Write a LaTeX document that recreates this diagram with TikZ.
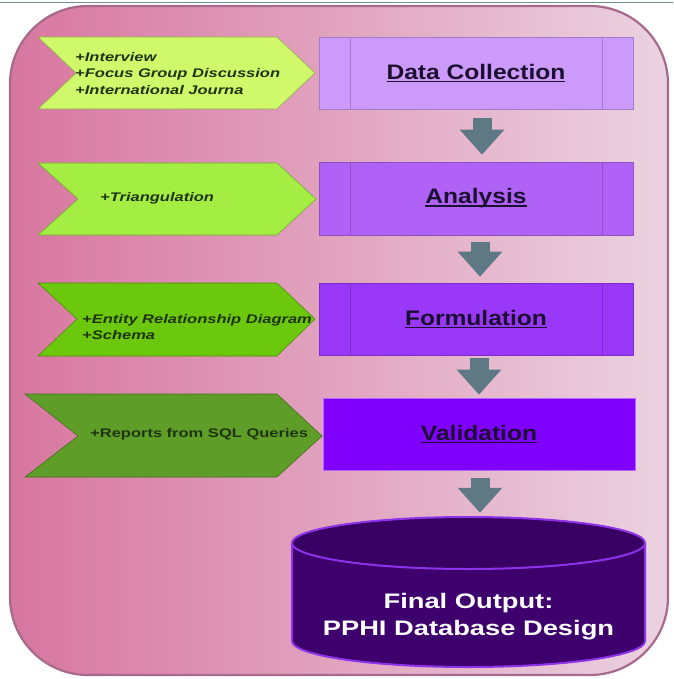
\documentclass[tikz,border=0pt]{standalone}
\usepackage{fontspec}
\setmainfont{Liberation Sans}
\usepackage{graphicx}
\usetikzlibrary{arrows.meta}

% palette
\definecolor{framel}{HTML}{D8769F}
\definecolor{framer}{HTML}{EBD2E0}
\definecolor{frameedge}{HTML}{A66A8C}
\definecolor{topline}{HTML}{6F9090}
\definecolor{gA}{HTML}{CFF86A}
\definecolor{gB}{HTML}{A4EE44}
\definecolor{gC}{HTML}{6CC80C}
\definecolor{gD}{HTML}{5E9E28}
\definecolor{gtext}{HTML}{1F330E}
\definecolor{pA}{HTML}{CC9AFB}
\definecolor{pB}{HTML}{B062F7}
\definecolor{pC}{HTML}{9A38FA}
\definecolor{pD}{HTML}{7F00FC}
\definecolor{ptext}{HTML}{1C1030}
\definecolor{flowgray}{HTML}{5E7884}
\definecolor{cylbody}{HTML}{3E006C}
\definecolor{cylglow}{HTML}{8E32EA}

% widened text and a heavy underline
\newcommand\widetxt[2]{\scalebox{#1}[1]{#2}}
\newcommand\heavyul[1]{\setbox0=\hbox{#1}\rlap{\raisebox{-2.8pt}{\rule{\wd0}{1.5pt}}}\box0}

\tikzset{
  chevron/.style={line width=0.6pt},
  chevtext/.style={anchor=west, inner sep=0pt, align=left, text=gtext,
    font=\fontsize{12.5}{16.5}\selectfont\bfseries\itshape},
  stagebox/.style={line width=0.6pt, minimum width=314pt, minimum height=72pt,
    inner sep=0pt, text=ptext, font=\fontsize{21}{24}\selectfont\bfseries},
  flow/.style={draw=flowgray, line width=19pt,
    -{Triangle[length=25pt,width=43pt]}},
}

\begin{document}
\begin{tikzpicture}[x=1pt,y=-1pt]
\useasboundingbox (0,0) rectangle (673,679);
\fill[white] (0,0) rectangle (673,679);
\draw[topline, line width=1.2pt] (0,2.7) -- (673,2.7);

% rounded backdrop
\path[left color=framel, right color=framer, draw=frameedge, line width=2.2pt,
      rounded corners=78pt] (10,6) rectangle (668,675);

% green chevrons
\filldraw[chevron, fill=gA, draw=gA!70!black] (38,37) -- (277,37) -- (315,73) -- (277,109) -- (38,109) -- (76,73) -- cycle;
\filldraw[chevron, fill=gB, draw=gB!70!black] (38,163) -- (277,163) -- (316,199) -- (277,235) -- (38,235) -- (78,199) -- cycle;
\filldraw[chevron, fill=gC, draw=gC!70!black] (38,283) -- (277,283) -- (315,319) -- (277,356) -- (38,356) -- (77,319) -- cycle;
\filldraw[chevron, fill=gD, draw=gD!70!black] (25,394) -- (277,394) -- (322,436) -- (277,477) -- (25,477) -- (78,436) -- cycle;

\node[chevtext] (t1) at (75,73.5) {\widetxt{1.32}{+Interview}\\\widetxt{1.32}{+Focus Group Discussion}\\\widetxt{1.32}{+International Journa}};
\node[chevtext] (t2) at (100,198) {\widetxt{1.32}{+Triangulation}};
\node[chevtext] (t3) at (82,327) {\widetxt{1.32}{+Entity Relationship Diagram}\\\widetxt{1.32}{+Schema}};
\node[chevtext, font=\fontsize{12.5}{16.5}\selectfont\bfseries] (t4) at (90,434) {\widetxt{1.32}{+Reports from SQL Queries}};

% purple stages
\node[stagebox, fill=pA, draw=pA!80!black] (dc) at (476,73) {\widetxt{1.17}{\heavyul{Data Collection}}};
\node[stagebox, fill=pB, draw=pB!80!black, minimum height=73pt] (an) at (476,198.5) {\widetxt{1.17}{\heavyul{Analysis}}};
\node[stagebox, fill=pC, draw=pC!80!black] (fo) at (476,319) {\widetxt{1.17}{\heavyul{Formulation}}};
\node[stagebox, fill=pD, draw=pD!60!white, minimum width=312pt] (va) at (479,434) {\widetxt{1.17}{\heavyul{Validation}}};

% side bars of the process boxes
\foreach \n/\c in {dc/pA, an/pB, fo/pC}{
  \draw[\c!80!black, line width=0.6pt] ([xshift=32pt]\n.north west) -- ([xshift=32pt]\n.south west);
  \draw[\c!80!black, line width=0.6pt] ([xshift=-31pt]\n.north east) -- ([xshift=-31pt]\n.south east);
}

% database cylinder
\node[minimum width=353pt, minimum height=150pt, inner sep=0pt] (db) at (468.5,592) {};
\filldraw[fill=cylbody, draw=cylglow, line width=2pt]
  (292,543) -- (292,641) arc[start angle=180, end angle=360, x radius=176.5pt, y radius=26pt]
  -- (645,543) -- cycle;
\filldraw[fill=cylbody!92!black, draw=cylglow, line width=2pt]
  (468.5,543) ellipse [x radius=176.5pt, y radius=26pt];
\node[text=white, align=center, font=\fontsize{21}{27.5}\selectfont\bfseries] (dbt) at (468.5,616.5)
  {\widetxt{1.3}{Final Output:}\\\widetxt{1.3}{PPHI Database Design}};

% flow arrows
\draw[flow, shorten <=9pt, shorten >=7pt] ([xshift=6pt]dc.south) -- ([xshift=6pt]an.north);
\draw[flow, shorten <=7pt, shorten >=6pt] ([xshift=4pt]an.south) -- ([xshift=4pt]fo.north);
\draw[flow, shorten <=3pt, shorten >=3pt] ([xshift=3pt]fo.south) -- (va.north);
\draw[flow, shorten <=8pt, shorten >=4pt] ([xshift=1pt]va.south) -- ([xshift=1pt]va.south |- db.north);
\end{tikzpicture}
\end{document}
